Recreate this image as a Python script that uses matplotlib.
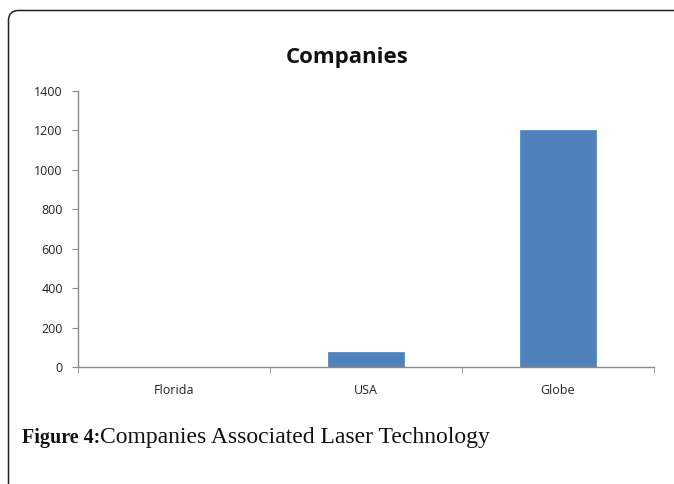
import matplotlib
matplotlib.use("Agg")
import matplotlib.pyplot as plt
from matplotlib.patches import FancyBboxPatch
from matplotlib.transforms import IdentityTransform

categories = ["Florida", "USA", "Globe"]
companies = [0, 75, 1200]
y_ticks = [0, 200, 400, 600, 800, 1000, 1200, 1400]

W, H, DPI = 674, 484, 100
fig = plt.figure(figsize=(W / DPI, H / DPI), dpi=DPI)
fig.patch.set_facecolor("white")

# Rounded outer frame (open to the right and bottom edges)
frame = FancyBboxPatch((8.5, -30), 720, H - 10.5 + 30,
                       boxstyle="round,pad=0,rounding_size=10",
                       linewidth=1.1, edgecolor="#222222", facecolor="none",
                       transform=IdentityTransform())
fig.add_artist(frame)

ax = fig.add_axes([78 / W, (H - 367) / H, (654 - 78) / W, (367 - 91) / H])
x = list(range(len(categories)))
ax.bar(x, companies, width=0.4, color="#4F81BD", edgecolor="#5B8BC4", linewidth=0.6)

ax.set_xlim(-0.5, len(categories) - 0.5)
ax.set_ylim(0, 1400)
ax.set_yticks(y_ticks)
ax.set_yticklabels([str(v) for v in y_ticks], fontsize=9, family="Open Sans", color="#222222")

# Category labels centred, tick marks at category boundaries
ax.set_xticks(x)
ax.set_xticklabels(categories, fontsize=9, family="Open Sans", color="#222222")
ax.tick_params(axis="x", which="major", length=0, pad=12)
ax.set_xticks([i - 0.5 for i in range(len(categories) + 1)], minor=True)
ax.tick_params(axis="x", which="minor", length=4, color="#8a8a8a", direction="out")
ax.tick_params(axis="y", length=4, color="#8a8a8a", direction="out", pad=7)

for side in ("top", "right"):
    ax.spines[side].set_visible(False)
for side in ("left", "bottom"):
    ax.spines[side].set_color("#8a8a8a")
    ax.spines[side].set_linewidth(1.0)

fig.text(347 / W, 1 - 57 / H, "Companies", ha="center", va="center",
         fontsize=16, fontweight="bold", family="Open Sans", color="#111111")

# Caption: bold label followed directly by the regular description
cap_y = 1 - 443 / H
label = fig.text(22 / W, cap_y, "Figure 4:", ha="left", va="baseline",
                 fontsize=14.5, fontweight="bold", family="Liberation Serif", color="#111111")
renderer = fig.canvas.get_renderer()
label_right = label.get_window_extent(renderer=renderer).x1
fig.text(label_right / W, cap_y, "Companies Associated Laser Technology", ha="left", va="baseline",
         fontsize=17, family="Liberation Serif", color="#111111")

fig.savefig("out.png", dpi=DPI, facecolor="white")
